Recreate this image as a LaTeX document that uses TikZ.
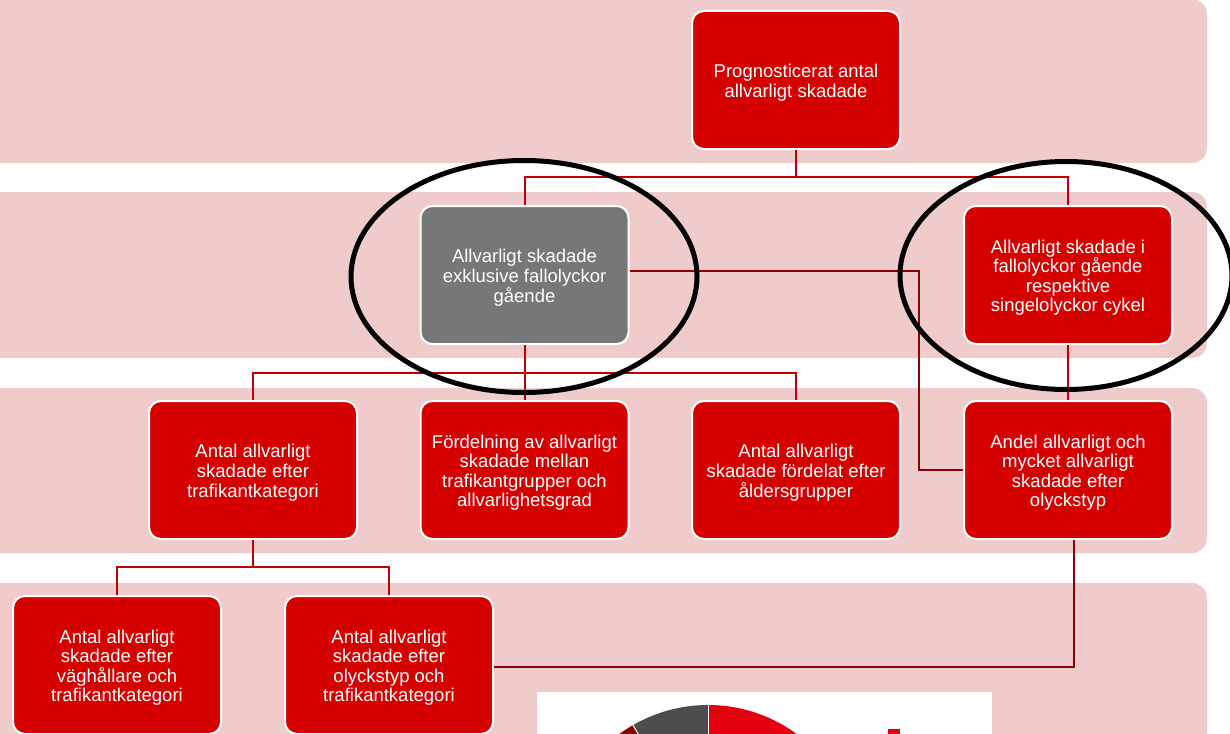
\documentclass[tikz,border=0pt]{standalone}
\usepackage{fontspec}
\setmainfont{Liberation Sans}
\definecolor{bandpink}{HTML}{EFCBCB}
\definecolor{boxred}{HTML}{D50000}
\definecolor{boxgray}{HTML}{777777}
\definecolor{treered}{HTML}{C00000}
\definecolor{crossred}{HTML}{900000}
\definecolor{piered}{HTML}{E3000F}
\definecolor{piegray}{HTML}{4D4D4D}
\definecolor{piedark}{HTML}{8B0000}
\newcommand{\tp}{\rule{0pt}{19pt}}
\tikzset{
  band/.style={fill=bandpink, rounded corners=15pt},
  box/.style={fill=boxred, draw=white, line width=2pt, rounded corners=12pt,
    minimum width=208pt, minimum height=138pt, align=center, text=white,
    font=\fontsize{18.5pt}{19.6pt}\selectfont, inner sep=2pt},
  graybox/.style={box, fill=boxgray},
  tree/.style={draw=treered, line width=2pt},
  cross/.style={draw=crossred, line width=2pt},
  ring/.style={draw=black, line width=5pt}
}
\begin{document}
\begin{tikzpicture}[x=1pt,y=-1pt]
\useasboundingbox (0,0) rectangle (1230,733);
\clip (0,0) rectangle (1230,733);
% bands
\fill[band] (-30,-1) rectangle (1207,163);
\fill[band] (-30,192) rectangle (1207,358);
\fill[band] (-30,388) rectangle (1207,553);
\fill[band] (-30,583) rectangle (1207,780);
% pie picture
\fill[white] (537,692) rectangle (992,740);
\begin{scope}
\clip (537,692) rectangle (992,740);
\coordinate (pc) at (708,855);
\fill[piered] (pc) -- +(90:150pt) arc[start angle=90, end angle=-40, radius=150pt] -- cycle;
\fill[piegray] (pc) -- +(90:150pt) arc[start angle=90, end angle=120, radius=150pt] -- cycle;
\fill[piedark] (pc) -- +(120:150pt) arc[start angle=120, end angle=160, radius=150pt] -- cycle;
\draw[white, line width=1pt] (pc) -- +(90:151pt);
\draw[white, line width=1pt] (pc) -- +(120:151pt);
\fill[piered] (888,729) rectangle (900,740);
\end{scope}
% junction coordinates
\coordinate (j1) at (796,177);
\coordinate (j2) at (524.5,373);
\coordinate (j3) at (253,567);
\coordinate (c1) at (919,271);
\coordinate (c2) at (1074,667);
% nodes
\node[box] (n1) at (796,80) {\tp Prognosticerat antal\\allvarligt skadade};
\node[graybox] (n2) at (524.5,275) {\tp Allvarligt skadade\\exklusive fallolyckor\\gående};
\node[box] (n3) at (1068,275) {\tp Allvarligt skadade i\\fallolyckor gående\\respektive\\singelolyckor cykel};
\node[box] (n4) at (253,470) {\tp Antal allvarligt\\skadade efter\\trafikantkategori};
\node[box] (n5) at (524.5,470) {\tp Fördelning av allvarligt\\skadade mellan\\trafikantgrupper och\\allvarlighetsgrad};
\node[box] (n6) at (796,470) {\tp Antal allvarligt\\skadade fördelat efter\\åldersgrupper};
\node[box] (n7) at (1068,470) {\tp Andel allvarligt och\\mycket allvarligt\\skadade efter\\olyckstyp};
\node[box] (n8) at (117,665) {\tp Antal allvarligt\\skadade efter\\väghållare och\\trafikantkategori};
\node[box] (n9) at (389,665) {\tp Antal allvarligt\\skadade efter\\olyckstyp och\\trafikantkategori};
% connectors
\draw[tree] (n1.south) -- (j1);
\draw[tree] (j1) -| (n2.north);
\draw[tree] (j1) -| (n3.north);
\draw[tree] (n2.south) -- (j2);
\draw[tree] (j2) -| (n4.north);
\draw[tree] (j2) -- (n5.north);
\draw[tree] (j2) -| (n6.north);
\draw[tree] (n3.south) -- (n7.north);
\draw[tree] (n4.south) -- (j3);
\draw[tree] (j3) -| (n8.north);
\draw[tree] (j3) -| (n9.north);
\draw[cross] (n2.east |- c1) -- (c1) |- (n7.west);
\draw[cross] (n7.south -| c2) -- (c2) -- (c2 -| n9.east);
% rings
\draw[ring] (524,276.5) ellipse [x radius=173pt, y radius=116pt];
\draw[ring] (1066,275.5) ellipse [x radius=166pt, y radius=114pt];
\end{tikzpicture}
\end{document}
